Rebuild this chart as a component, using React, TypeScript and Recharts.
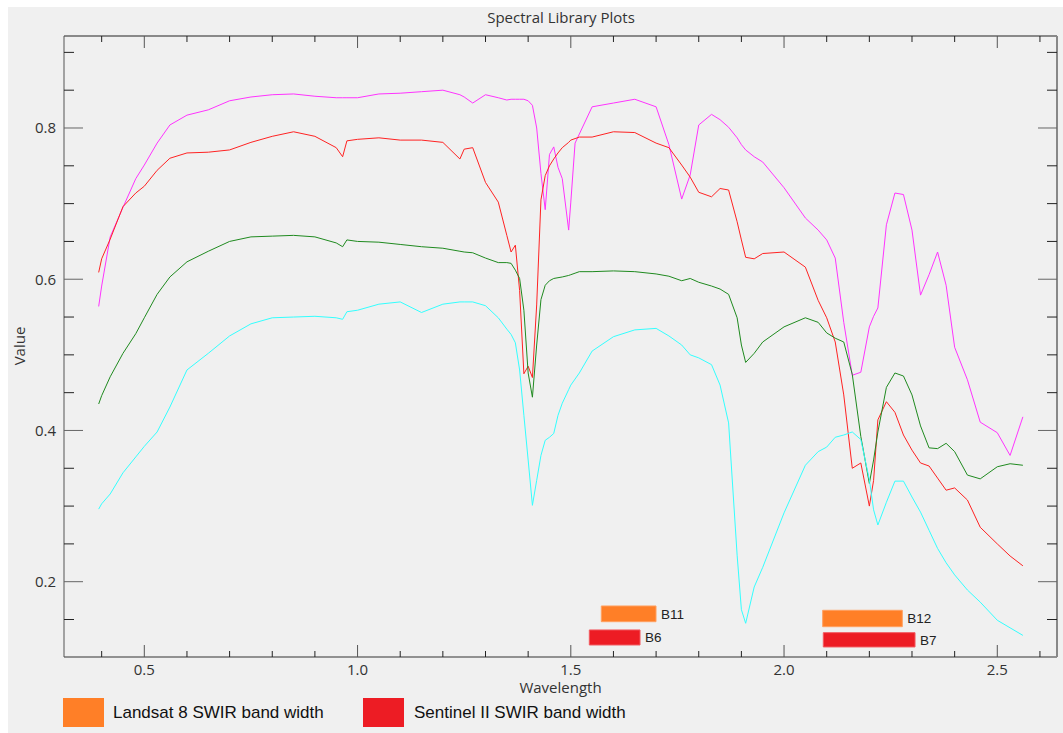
import { LineChart, Line, XAxis, YAxis, ReferenceArea } from 'recharts';

// wavelength grid (µm), denser around the absorption features
const wavelength = [
  0.393, 0.40, 0.42, 0.45, 0.48, 0.50, 0.53, 0.56, 0.60, 0.65, 0.70, 0.75, 0.80, 0.85, 0.90, 0.95, 0.965, 0.975,
  1.00, 1.05, 1.10, 1.15, 1.20, 1.24, 1.25, 1.27, 1.30, 1.33, 1.35, 1.36, 1.37, 1.38, 1.39, 1.40, 1.41, 1.42, 1.43,
  1.44, 1.45, 1.46, 1.47, 1.48, 1.495, 1.50, 1.51, 1.52, 1.55, 1.60, 1.65, 1.70, 1.73, 1.76, 1.78, 1.80, 1.83,
  1.85, 1.87, 1.89, 1.90, 1.91, 1.93, 1.95, 2.00, 2.05, 2.08, 2.10, 2.12, 2.14, 2.16, 2.18, 2.20, 2.21, 2.22,
  2.24, 2.26, 2.28, 2.30, 2.32, 2.34, 2.36, 2.38, 2.40, 2.43, 2.46, 2.50, 2.53, 2.56,
];

const magentaSpec = [
  0.564, 0.591, 0.656, 0.695, 0.733, 0.751, 0.780, 0.804, 0.817, 0.824, 0.836, 0.841, 0.844, 0.845, 0.842, 0.840, 0.840, 0.840,
  0.840, 0.845, 0.846, 0.848, 0.850, 0.844, 0.841, 0.833, 0.844, 0.840, 0.837, 0.838, 0.838, 0.838, 0.838, 0.836, 0.830, 0.800, 0.740,
  0.692, 0.765, 0.775, 0.748, 0.733, 0.665, 0.702, 0.780, 0.792, 0.828, 0.833, 0.838, 0.828, 0.778, 0.706, 0.738, 0.804, 0.818,
  0.811, 0.801, 0.787, 0.778, 0.771, 0.762, 0.755, 0.721, 0.681, 0.665, 0.652, 0.628, 0.543, 0.473, 0.477, 0.537, 0.551, 0.562,
  0.672, 0.714, 0.712, 0.665, 0.579, 0.606, 0.636, 0.592, 0.510, 0.467, 0.411, 0.397, 0.367, 0.418,
];

const redSpec = [
  0.609, 0.627, 0.653, 0.696, 0.714, 0.723, 0.744, 0.760, 0.767, 0.768, 0.771, 0.781, 0.789, 0.795, 0.789, 0.774, 0.762, 0.783,
  0.785, 0.787, 0.784, 0.784, 0.781, 0.759, 0.772, 0.774, 0.728, 0.702, 0.658, 0.636, 0.645, 0.585, 0.475, 0.485, 0.470, 0.566, 0.705,
  0.737, 0.750, 0.759, 0.767, 0.774, 0.781, 0.784, 0.786, 0.788, 0.788, 0.795, 0.794, 0.780, 0.774, 0.751, 0.735, 0.715, 0.709,
  0.720, 0.718, 0.676, 0.652, 0.629, 0.627, 0.634, 0.636, 0.616, 0.572, 0.549, 0.517, 0.447, 0.350, 0.357, 0.300, 0.334, 0.414,
  0.438, 0.424, 0.394, 0.374, 0.357, 0.353, 0.337, 0.321, 0.324, 0.308, 0.272, 0.250, 0.234, 0.221,
];

const greenSpec = [
  0.435, 0.446, 0.471, 0.502, 0.528, 0.549, 0.580, 0.603, 0.623, 0.637, 0.650, 0.656, 0.657, 0.658, 0.656, 0.648, 0.643, 0.652,
  0.650, 0.649, 0.646, 0.643, 0.641, 0.637, 0.636, 0.635, 0.628, 0.622, 0.622, 0.621, 0.612, 0.601, 0.559, 0.476, 0.444, 0.513, 0.573,
  0.592, 0.598, 0.601, 0.602, 0.603, 0.605, 0.606, 0.608, 0.610, 0.610, 0.611, 0.610, 0.607, 0.604, 0.598, 0.601, 0.596, 0.591,
  0.587, 0.580, 0.549, 0.513, 0.490, 0.502, 0.517, 0.537, 0.549, 0.543, 0.529, 0.522, 0.517, 0.474, 0.392, 0.330, 0.361, 0.398,
  0.457, 0.476, 0.472, 0.447, 0.406, 0.377, 0.376, 0.383, 0.372, 0.341, 0.336, 0.352, 0.356, 0.354,
];

const cyanSpec = [
  0.296, 0.303, 0.316, 0.344, 0.365, 0.379, 0.398, 0.431, 0.480, 0.502, 0.525, 0.541, 0.549, 0.550, 0.551, 0.549, 0.547, 0.557,
  0.559, 0.567, 0.570, 0.556, 0.567, 0.570, 0.570, 0.570, 0.565, 0.549, 0.534, 0.527, 0.516, 0.480, 0.420, 0.361, 0.301, 0.334, 0.367,
  0.387, 0.391, 0.396, 0.420, 0.436, 0.454, 0.460, 0.468, 0.476, 0.505, 0.524, 0.533, 0.535, 0.525, 0.513, 0.500, 0.496, 0.487,
  0.460, 0.410, 0.235, 0.163, 0.145, 0.193, 0.219, 0.291, 0.354, 0.372, 0.378, 0.391, 0.394, 0.398, 0.388, 0.335, 0.295, 0.275,
  0.305, 0.333, 0.333, 0.312, 0.292, 0.268, 0.244, 0.225, 0.209, 0.189, 0.173, 0.149, 0.139, 0.129,
];

const xTicks = [0.4, 0.5, 0.6, 0.7, 0.8, 0.9, 1.0, 1.1, 1.2, 1.3, 1.4, 1.5, 1.6, 1.7, 1.8, 1.9, 2.0, 2.1, 2.2, 2.3, 2.4, 2.5, 2.6];
const yTicks = [0.15, 0.2, 0.25, 0.3, 0.35, 0.4, 0.45, 0.5, 0.55, 0.6, 0.65, 0.7, 0.75, 0.8, 0.85, 0.9];

// SWIR band widths (wavelength range, drawn at a fixed value range)
const landsatBands = [
  { name: 'B11', x1: 1.5715, x2: 1.6998, y1: 0.1471, y2: 0.1679 },
  { name: 'B12', x1: 2.0906, x2: 2.2773, y1: 0.1405, y2: 0.1622 },
];
const sentinelBands = [
  { name: 'B6', x1: 1.5434, x2: 1.6623, y1: 0.1163, y2: 0.1362 },
  { name: 'B7', x1: 2.092, x2: 2.3071, y1: 0.1137, y2: 0.1326 },
];
const legendLabels = ['Landsat 8 SWIR band width', 'Sentinel II SWIR band width'];

const data = wavelength.map((w, i) => ({
  w,
  magenta: magentaSpec[i],
  red: redSpec[i],
  green: greenSpec[i],
  cyan: cyanSpec[i],
}));

const ORANGE = '#ff7f27';
const RED = '#ed1c24';
const FONT = '"Open Sans", "DejaVu Sans", sans-serif';

const isStep = (v: number, step: number) => Math.abs(v / step - Math.round(v / step)) < 1e-6;

function XTick(props: any) {
  const { x, y, payload, side } = props;
  const v = payload.value;
  const major = isStep(v, 0.5);
  const len = major ? 12 : 6;
  const dir = side === 'bottom' ? -1 : 1;
  return (
    <g>
      <line x1={x} y1={y} x2={x} y2={y + dir * len} stroke={major ? '#555' : '#222'} strokeWidth={1} />
      {side === 'bottom' && major && (
        <text x={x} y={y + 18} textAnchor="middle" fontSize={15} fontFamily={FONT} fill="#333">
          {v.toFixed(1)}
        </text>
      )}
    </g>
  );
}

function YTick(props: any) {
  const { x, y, payload, side } = props;
  const v = payload.value;
  const major = isStep(v, 0.2);
  const len = major ? 19 : 10;
  const dir = side === 'left' ? 1 : -1;
  return (
    <g>
      <line x1={x} y1={y} x2={x + dir * len} y2={y} stroke={major ? '#666' : '#222'} strokeWidth={1} />
      {side === 'left' && major && (
        <text x={x - 8} y={y} dy="0.36em" textAnchor="end" fontSize={15} fontFamily={FONT} fill="#333">
          {v.toFixed(1)}
        </text>
      )}
    </g>
  );
}

const bandLabel = (name: string) => ({
  value: name,
  position: 'right' as const,
  offset: 5,
  fill: '#222',
  fontSize: 13.5,
  fontFamily: '"Liberation Sans", Arial, sans-serif',
});

export default function App() {
  return (
    <div
      style={{
        position: 'absolute',
        left: 8,
        top: 7,
        width: 1055,
        height: 726,
        background: '#f0f0f0',
        fontFamily: FONT,
        overflow: 'hidden',
      }}
    >
      <div
        style={{
          position: 'absolute',
          left: 553,
          top: 0,
          transform: 'translateX(-50%)',
          whiteSpace: 'nowrap',
          fontSize: 15,
          color: '#333',
        }}
      >
        Spectral Library Plots
      </div>
      <div
        style={{
          position: 'absolute',
          left: 11,
          top: 339,
          transform: 'translate(-50%, -50%) rotate(-90deg)',
          whiteSpace: 'nowrap',
          fontSize: 15,
          color: '#333',
        }}
      >
        Value
      </div>

      <LineChart width={1055} height={726} data={data} margin={{ top: 0, right: 0, left: 0, bottom: 0 }}>
        <XAxis
          xAxisId="bottom"
          dataKey="w"
          type="number"
          domain={[0.3117, 2.64]}
          allowDataOverflow
          ticks={xTicks}
          interval={0}
          height={76}
          tickSize={0}
          tickMargin={0}
          tickLine={false}
          axisLine={{ stroke: '#333' }}
          tick={(p: any) => <XTick {...p} side="bottom" />}
          label={{ value: 'Wavelength', position: 'insideTop', offset: 25, fill: '#333', fontSize: 15, fontFamily: FONT }}
        />
        <XAxis
          xAxisId="top"
          orientation="top"
          dataKey="w"
          type="number"
          domain={[0.3117, 2.64]}
          allowDataOverflow
          ticks={xTicks}
          interval={0}
          height={29}
          tickSize={0}
          tickMargin={0}
          tickLine={false}
          axisLine={{ stroke: '#222' }}
          tick={(p: any) => <XTick {...p} side="top" />}
        />
        <YAxis
          yAxisId="left"
          type="number"
          domain={[0.10042, 0.92166]}
          allowDataOverflow
          ticks={yTicks}
          interval={0}
          width={56}
          tickSize={0}
          tickMargin={0}
          tickLine={false}
          axisLine={{ stroke: '#555' }}
          tick={(p: any) => <YTick {...p} side="left" />}
        />
        <YAxis
          yAxisId="right"
          orientation="right"
          type="number"
          domain={[0.10042, 0.92166]}
          allowDataOverflow
          ticks={yTicks}
          interval={0}
          width={6}
          tickSize={0}
          tickMargin={0}
          tickLine={false}
          axisLine={{ stroke: '#888', strokeWidth: 2 }}
          tick={(p: any) => <YTick {...p} side="right" />}
        />

        <Line xAxisId="bottom" yAxisId="left" type="linear" dataKey="magenta" stroke="#ff33ff" strokeWidth={1} dot={false} isAnimationActive={false} />
        <Line xAxisId="bottom" yAxisId="left" type="linear" dataKey="red" stroke="#ff2222" strokeWidth={1} dot={false} isAnimationActive={false} />
        <Line xAxisId="bottom" yAxisId="left" type="linear" dataKey="green" stroke="#1f8a1f" strokeWidth={1} dot={false} isAnimationActive={false} />
        <Line xAxisId="bottom" yAxisId="left" type="linear" dataKey="cyan" stroke="#33ffff" strokeWidth={1} dot={false} isAnimationActive={false} />

        {landsatBands.map((b) => (
          <ReferenceArea
            key={b.name}
            xAxisId="bottom"
            yAxisId="left"
            x1={b.x1}
            x2={b.x2}
            y1={b.y1}
            y2={b.y2}
            fill={ORANGE}
            fillOpacity={1}
            stroke="#ffa060"
            strokeWidth={1}
            label={bandLabel(b.name)}
          />
        ))}
        {sentinelBands.map((b) => (
          <ReferenceArea
            key={b.name}
            xAxisId="bottom"
            yAxisId="left"
            x1={b.x1}
            x2={b.x2}
            y1={b.y1}
            y2={b.y2}
            fill={RED}
            fillOpacity={1}
            stroke="#f25a60"
            strokeWidth={1}
            label={bandLabel(b.name)}
          />
        ))}
      </LineChart>

      {legendLabels.map((text, i) => (
        <div key={text}>
          <div
            style={{
              position: 'absolute',
              left: i === 0 ? 55 : 355,
              top: 691,
              width: 41,
              height: 29,
              background: i === 0 ? ORANGE : RED,
            }}
          />
          <div
            style={{
              position: 'absolute',
              left: i === 0 ? 105 : 406,
              top: 696,
              whiteSpace: 'nowrap',
              fontSize: 17,
              color: '#111',
              fontFamily: '"Liberation Sans", Arial, sans-serif',
            }}
          >
            {text}
          </div>
        </div>
      ))}
    </div>
  );
}
